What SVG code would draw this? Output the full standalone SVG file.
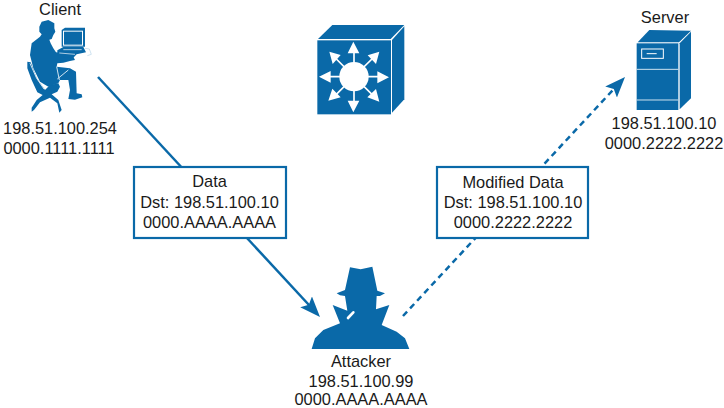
<svg xmlns="http://www.w3.org/2000/svg" width="724" height="408" viewBox="0 0 724 408">
<style>
text{font-family:"Liberation Sans",Arial,sans-serif;font-size:16.4px;fill:#1a1a1a;text-anchor:middle}
.i{fill:#0a69a8}
.w{fill:#fff}
.ws{stroke:#cfe3f0;fill:none;stroke-width:3}
.wt{stroke:#fff;fill:none}
.c{stroke:#0a69a8;stroke-width:2.500;fill:none}
.d{stroke-dasharray:6 4.400}
.b{fill:#fff;stroke:#0a69a8;stroke-width:2.200}
</style>
<defs>
<marker id="a" markerUnits="userSpaceOnUse" markerWidth="24" markerHeight="20" refX="16.500" refY="8" orient="auto"><path d="M0 0L20.500 8L0 16L4 8Z" fill="#0a69a8"/></marker>
</defs>
<g id="connectors">
<path class="c" d="M98 77L317.300 314" marker-end="url(#a)"/>
<path class="c d" d="M403 316L622.300 79.900" marker-end="url(#a)"/>
</g>
<g id="client">
<text x="60" y="15">Client</text>
<g transform="translate(20 15) scale(.33333)">
<path class="i" d="M22 140L32 142L50 190L75 225L90 210L115 205L120 215L112 230L95 238L115 255L125 285L118 293L112 265L90 248L60 262L42 285L35 290L35 278L50 255L68 240L52 232L35 195L22 160Z"/>
<path class="i" d="M58 35L65 20L85 15L103 25L103 40L106 50L100 60L95 72L88 74L92 85L100 100L108 112L130 115L150 125L160 125L165 135L150 138L130 143L112 145L110 155L150 160L168 170L170 235L185 238L187 247L165 254L145 252L150 225L145 195L120 195L115 205L85 215L60 200L40 160L30 120L35 85L60 65L65 58L58 50Z"/>
<path class="ws" stroke-width="2.500" d="M30 145L50 190L72 222M110 155L118 195M112 192L145 165"/>
<path class="i" d="M125 45L135 38L195 38L195 95L125 95Z"/>
<rect class="w" x="129" y="47" width="60" height="45"/>
<rect class="i" x="132" y="50" width="54" height="39"/>
<path class="i" d="M130 96L190 96L198 112L170 118L160 128L130 126L112 122L112 106Z"/>
<path class="wt" stroke-width="2" d="M118 114L165 118M130 104L185 104"/>
<path class="ws" stroke-width="2" d="M195 100L208 102L214 118L202 122"/>
</g>
</g>
<text x="60" y="134">198.51.100.254</text>
<text x="59" y="154">0000.1111.1111</text>
<g id="switch">
<g transform="translate(300 10) scale(.33333)">
<path class="i" d="M54 87L97 45L313 45L272 87Z"/>
<path class="i" d="M276 90L313 49L313 268L276 308Z"/>
<rect class="i" x="52" y="91" width="221" height="222"/>
<circle class="w" cx="162" cy="200" r="44"/>
<path class="wt" stroke-width="5" d="M162 200V120M162 200V285M162 200H80M162 200H245M162 200L100 138M162 200L225 138M162 200L100 262M162 200L225 262"/>
<path class="w" d="M160 95L178 130L143 130ZM160 307L178 272L143 272ZM57 200L92 183L92 218ZM267 202L232 184L232 220ZM88 125L122 135L98 162ZM238 125L228 162L203 136ZM85 272L97 236L122 262ZM238 275L202 262L228 237Z"/>
</g>
</g>
<g id="server">
<text x="665" y="23">Server</text>
<g transform="translate(590 0) scale(.33333)">
<path class="i" d="M143 127L178 90L303 92L267 127Z"/>
<path class="i" d="M269 130L303 95L303 295L269 328Z"/>
<rect class="i" x="140" y="130" width="125" height="200"/>
<path class="ws" d="M140 208H265M140 300H265"/>
<rect x="155" y="147" width="65" height="28" fill="none" stroke="#fff" stroke-width="3"/>
<path class="wt" stroke-width="3" d="M170 161H200"/>
</g>
</g>
<text x="664" y="129">198.51.100.10</text>
<text x="664" y="149">0000.2222.2222</text>
<g id="data">
<rect class="b" x="134" y="167" width="152" height="71"/>
<text x="209.500" y="187">Data</text>
<text x="209.500" y="208">Dst: 198.51.100.10</text>
<text x="209.500" y="228">0000.AAAA.AAAA</text>
</g>
<g id="modified">
<rect class="b" x="437" y="167" width="151" height="71"/>
<text x="513" y="188">Modified Data</text>
<text x="513" y="208">Dst: 198.51.100.10</text>
<text x="513" y="228">0000.2222.2222</text>
</g>
<g id="attacker">
<g transform="translate(290 250) scale(.33333)">
<path class="i" d="M180 52L212 58L247 50L262 122L285 130L270 138L260 138L258 178L298 165L275 225L320 245L345 265L358 297L65 297L75 265L100 240L150 220L128 165L172 182L165 138L150 136L140 130L165 120Z"/>
<path d="M174 204L190 187" stroke="#fff" stroke-width="8" stroke-linecap="round"/>
</g>
</g>
<text x="361" y="367">Attacker</text>
<text x="361" y="387">198.51.100.99</text>
<text x="361" y="405">0000.AAAA.AAAA</text>
</svg>
